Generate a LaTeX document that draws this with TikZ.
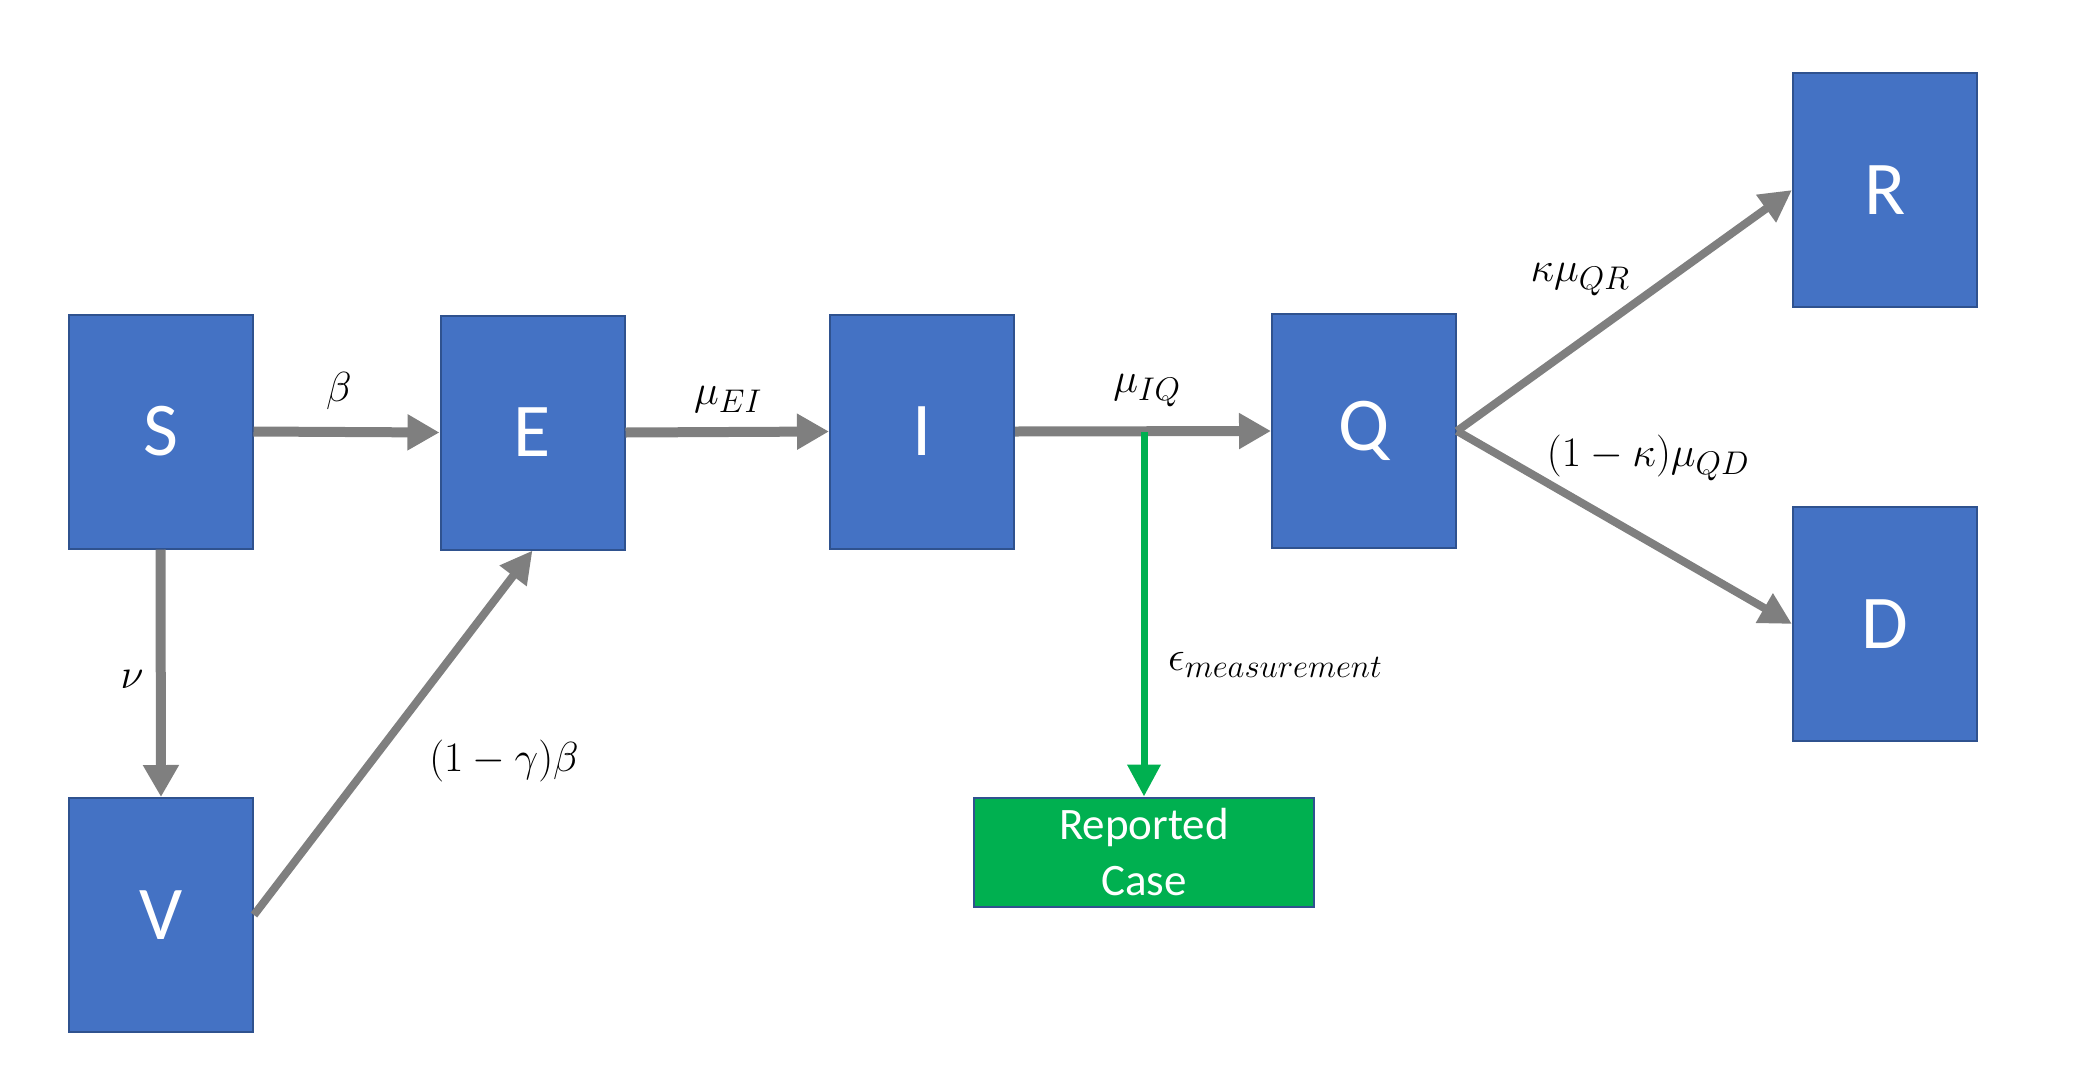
\RequirePackage{fix-cm}
\documentclass[tikz,border=0pt]{standalone}
\usepackage{fontspec}
\setmainfont{Carlito}
\usetikzlibrary{arrows.meta}
\renewcommand\defaultscriptratio{.78}
\definecolor{boxblue}{HTML}{4472C4}
\definecolor{boxedge}{HTML}{2F528F}
\definecolor{flowgray}{HTML}{7F7F7F}
\definecolor{repgreen}{HTML}{00B050}
\tikzset{
  comp/.style={rectangle, fill=boxblue, draw=boxedge, line width=2pt, minimum width=184pt, minimum height=234pt, inner sep=0pt, text=white, font=\fontsize{76}{80}\selectfont},
  repbox/.style={rectangle, fill=repgreen, draw=boxedge, line width=2pt, minimum width=340pt, minimum height=109pt, inner sep=0pt, text=white, align=center, font=\fontsize{45}{56}\selectfont},
  flow/.style={draw=flowgray, line width=10pt, -{Triangle[length=32pt,width=34pt]}},
  dflow/.style={draw=flowgray, line width=8pt, -{Triangle[length=32pt,width=32pt]}},
  measure/.style={draw=repgreen, line width=7pt, -{Triangle[length=32pt,width=32pt]}},
  rate/.style={inner sep=0pt, font=\fontsize{42}{50}\selectfont}
}
\begin{document}
\begin{tikzpicture}[x=1pt,y=-1pt]
\useasboundingbox (0,0) rectangle (2091,1074);
\node[comp] (S) at (160.5,431.5) {S};
\node[comp] (E) at (532.5,432.5) {E};
\node[comp] (I) at (922,431.5) {I};
\node[comp] (Q) at (1364,431) {Q};
\node[comp] (R) at (1885,190) {R};
\node[comp] (D) at (1885,624) {D};
\node[comp] (V) at (161,915) {V};
\node[repbox] (RC) at (1144,852) {Reported\\Case};

\draw[flow] (S.east) -- (E.west);
\draw[flow] (E.east) -- (I.west);
\draw[flow] (I.east) -- (Q.west);
\draw[flow] (S.south) -- (V.north);
\draw[dflow] (V.east) -- (E.south);
\draw[dflow] (Q.east) -- (R.west);
\draw[dflow] (Q.east) -- (D.west);
\coordinate (tap) at (RC.north |- I.east);
\draw[measure] (tap) -- (RC.north);

\node[rate] (lb) at (339,391) {$\beta$};
\node[rate] (lei) at (728,400) {$\mu_{EI}$};
\node[rate] (liq) at (1147,391) {$\mu_{IQ}$};
\node[rate] (lqr) at (1580,280) {$\kappa\mu_{QR}$};
\node[rate] (lqd) at (1648,458) {$(1-\kappa)\mu_{QD}$};
\node[rate] (lnu) at (132,679) {$\nu$};
\node[rate] (lgb) at (504,761) {$(1-\gamma)\beta$};
\node[rate, anchor=west] (leps) at (1168,665) {$\epsilon_{measurement}$};
\end{tikzpicture}
\end{document}
